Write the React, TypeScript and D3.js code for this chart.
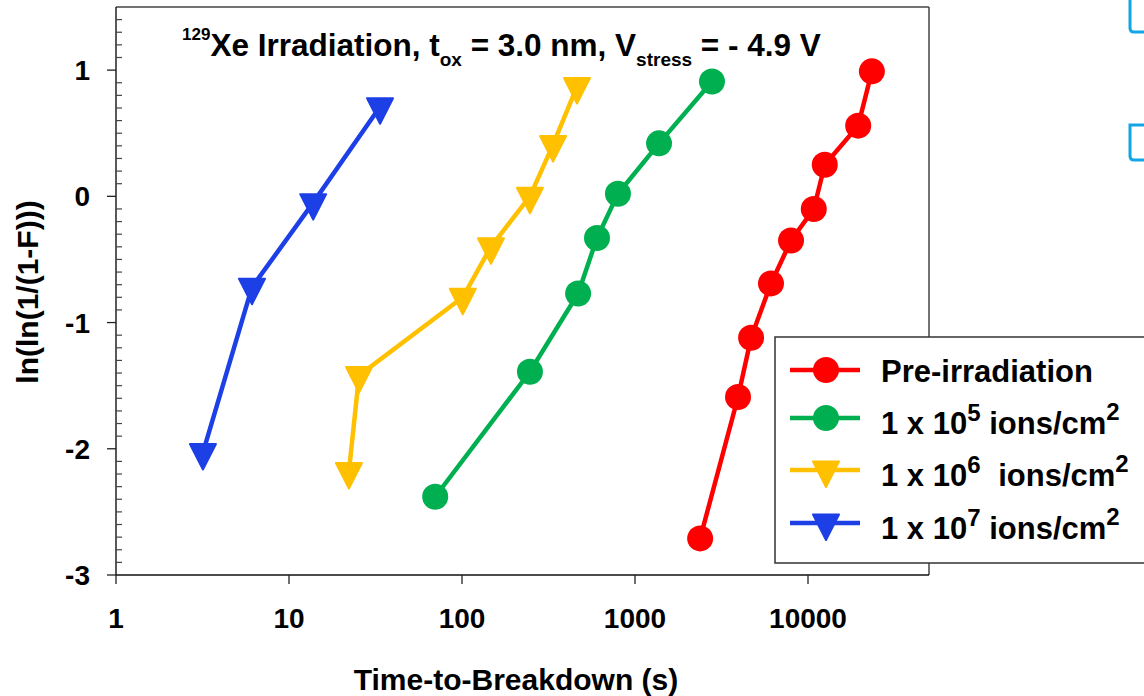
import React from "react";
import * as d3 from "d3";

// ---- data ----
const preTimes = [2380, 3940, 4690, 6110, 7980, 10800, 12500, 19500, 23400];
const preVals = [-2.71, -1.59, -1.12, -0.69, -0.35, -0.1, 0.25, 0.56, 0.99];

const e5Times = [70, 247, 469, 603, 797, 1377, 2786];
const e5Vals = [-2.38, -1.39, -0.77, -0.33, 0.02, 0.42, 0.91];

const e6Times = [22.2, 25.4, 101, 147, 247, 336, 462];
const e6Vals = [-2.18, -1.42, -0.8, -0.4, 0.0, 0.41, 0.87];

const e7Times = [3.18, 6.11, 13.8, 33.6];
const e7Vals = [-2.03, -0.72, -0.05, 0.71];

const xTicks = [1, 10, 100, 1000, 10000];
const xTickLabels = ["1", "10", "100", "1000", "10000"];
const yTicks = [1, 0, -1, -2, -3];
const yTickLabels = ["1", "0", "-1", "-2", "-3"];

const seriesNames = ["Pre-irradiation", "1 x 10", "1 x 10", "1 x 10"];
const seriesExp = ["", "5", "6", "7"];

const FONT = "'Liberation Sans', Arial, Helvetica, sans-serif";

const series = [
  { t: preTimes, v: preVals, color: "#ff0000", marker: "circle" },
  { t: e5Times, v: e5Vals, color: "#00b050", marker: "circle" },
  { t: e6Times, v: e6Vals, color: "#ffc000", marker: "tri" },
  { t: e7Times, v: e7Vals, color: "#1c3fe6", marker: "tri" },
];

const triPath = "M-13,-8.5 L13,-8.5 L0,17 Z";

function Marker({ kind, x, y, color }: { kind: string; x: number; y: number; color: string }) {
  if (kind === "circle") return <circle cx={x} cy={y} r={13} fill={color} />;
  return (
    <path
      d={triPath}
      transform={`translate(${x},${y})`}
      fill={color}
      stroke={color}
      strokeWidth={2}
      strokeLinejoin="round"
    />
  );
}

export default function App() {
  const left = 116, right = 929, top = 7, bottom = 575;
  const x = d3.scaleLog().domain([1, 10 ** ((right - left) / 173)]).range([left, right]);
  const y = d3.scaleLinear().domain([-3, 1.5]).range([bottom, top]);
  const line = d3
    .line<[number, number]>()
    .x((d) => x(d[0]))
    .y((d) => y(d[1]));

  const minorY: number[] = [];
  for (let i = -29; i <= 14; i++) {
    if (i % 10 !== 0) minorY.push(i / 10);
  }

  const legendRows = [370, 418, 470, 523];
  const legendBase = [382, 434, 486, 539];

  return (
    <svg
      width={1144}
      height={696}
      style={{ position: "absolute", left: 0, top: 0, background: "#fff" }}
      fontFamily={FONT}
      fontWeight="bold"
    >
      <rect x={0} y={0} width={1144} height={696} fill="#fff" />

      {/* cut-off shapes at top right */}
      <path d="M1130,0 L1130,28 Q1130,32 1134,32 L1144,32" fill="none" stroke="#14a3e4" strokeWidth={3} />
      <path d="M1144,125 L1130,125 L1130,156 Q1130,160 1134,160 L1144,160" fill="none" stroke="#14a3e4" strokeWidth={3} />

      {/* frame */}
      <line x1={left} x2={right} y1={top} y2={top} stroke="#444" strokeWidth={1.5} />
      <line x1={right} x2={right} y1={top} y2={bottom} stroke="#444" strokeWidth={1.5} />
      <line x1={left} x2={left} y1={top} y2={bottom} stroke="#222" strokeWidth={1.5} />
      <line x1={left} x2={right} y1={bottom} y2={bottom} stroke="#111" strokeWidth={1.5} />

      {/* y ticks */}
      {yTicks.map((v, i) => (
        <g key={"yt" + i}>
          <line x1={left - 9} x2={left} y1={y(v)} y2={y(v)} stroke="#222" strokeWidth={1.3} />
          <text x={90} y={y(v) + 10} textAnchor="end" fontSize={28} fill="#000">
            {yTickLabels[i]}
          </text>
        </g>
      ))}
      {minorY.map((v, i) => (
        <line key={"ym" + i} x1={left} x2={left + 6} y1={y(v)} y2={y(v)} stroke="#444" strokeWidth={1.2} />
      ))}

      {/* x ticks */}
      {xTicks.map((v, i) => (
        <g key={"xt" + i}>
          <line x1={x(v)} x2={x(v)} y1={bottom} y2={bottom + 9} stroke="#222" strokeWidth={1.3} />
          <text x={x(v)} y={628} textAnchor="middle" fontSize={28} fill="#000">
            {xTickLabels[i]}
          </text>
        </g>
      ))}

      {/* axis titles */}
      <text x={516} y={690} textAnchor="middle" fontSize={30} fill="#000">
        Time-to-Breakdown (s)
      </text>
      <text
        transform="translate(38,292) rotate(-90)"
        textAnchor="middle"
        fontSize={30}
        fill="#000"
      >
        ln(ln(1/(1-F)))
      </text>

      {/* title */}
      <text x={182} y={56} fontSize={31.5} fill="#000">
        <tspan fontSize={17} dy={-16}>129</tspan>
        <tspan dy={16}>Xe Irradiation, t</tspan>
        <tspan fontSize={19} dy={10}>ox</tspan>
        <tspan dy={-10}> = 3.0 nm, V</tspan>
        <tspan fontSize={19} dy={10}>stress</tspan>
        <tspan dy={-10}> = - 4.9 V</tspan>
      </text>

      {/* series */}
      {series.map((s, si) => {
        const pts: [number, number][] = s.t.map((t, i) => [t, s.v[i]]);
        return (
          <g key={"s" + si}>
            <path d={line(pts) || ""} fill="none" stroke={s.color} strokeWidth={4.5} />
            {pts.map((p, i) => (
              <Marker key={i} kind={s.marker} x={x(p[0])} y={y(p[1])} color={s.color} />
            ))}
          </g>
        );
      })}

      {/* legend */}
      <rect x={775} y={337} width={400} height={226} fill="#fff" stroke="#333" strokeWidth={1.5} />
      {series.map((s, i) => (
        <g key={"lg" + i}>
          <line x1={790} x2={860} y1={legendRows[i]} y2={legendRows[i]} stroke={s.color} strokeWidth={4.5} />
          <Marker kind={s.marker} x={826} y={legendRows[i]} color={s.color} />
          {i === 0 ? (
            <text x={881} y={legendBase[i]} fontSize={31} fill="#000">
              {seriesNames[i]}
            </text>
          ) : (
            <text x={881} y={legendBase[i]} fontSize={31} fill="#000">
              <tspan>{seriesNames[i]}</tspan>
              <tspan fontSize={24} dy={-13}>{seriesExp[i]}</tspan>
              <tspan dy={13} dx={i === 2 ? 9 : 0}> ions/cm</tspan>
              <tspan fontSize={24} dy={-14}>2</tspan>
            </text>
          )}
        </g>
      ))}
    </svg>
  );
}
